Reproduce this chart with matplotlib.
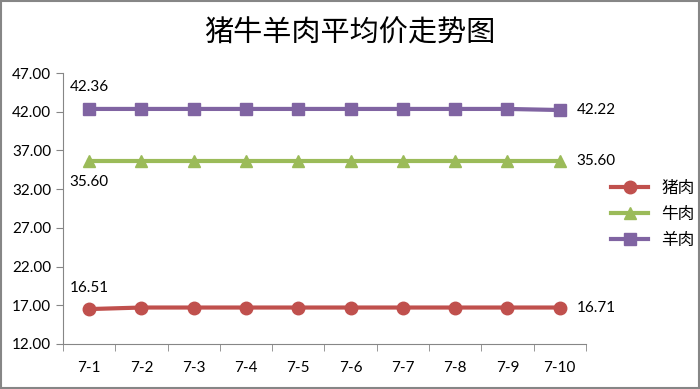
import matplotlib.pyplot as plt
import numpy as np

plt.rcParams['font.family'] = ['Noto Sans CJK SC', 'DejaVu Sans']

dates = ['7-1', '7-2', '7-3', '7-4', '7-5', '7-6', '7-7', '7-8', '7-9', '7-10']
pork = [16.51, 16.71, 16.71, 16.71, 16.71, 16.71, 16.71, 16.71, 16.71, 16.71]
beef = [35.60, 35.60, 35.60, 35.60, 35.60, 35.60, 35.60, 35.60, 35.60, 35.60]
mutton = [42.36, 42.36, 42.36, 42.36, 42.36, 42.36, 42.36, 42.36, 42.36, 42.22]
yticks = [12, 17, 22, 27, 32, 37, 42, 47]

fig = plt.figure(figsize=(7, 3.89), dpi=100)
ax = fig.add_axes([0.09, 0.1157, 0.747, 0.6966])

x = np.arange(len(dates))
ax.plot(x, pork, color='#c0504d', lw=3, marker='o', ms=9, label='猪肉')
ax.plot(x, beef, color='#9bbb59', lw=3, marker='^', ms=9, label='牛肉')
ax.plot(x, mutton, color='#8064a2', lw=3, marker='s', ms=8, label='羊肉')

# labels on first and last point
lbl = dict(fontsize=11, family=['Lato', 'DejaVu Sans'])
ax.annotate(f'{mutton[0]:.2f}', (x[0], mutton[0]), xytext=(0, 11), textcoords='offset points', ha='center', va='bottom', **lbl)
ax.annotate(f'{beef[0]:.2f}', (x[0], beef[0]), xytext=(0, -10), textcoords='offset points', ha='center', va='top', **lbl)
ax.annotate(f'{pork[0]:.2f}', (x[0], pork[0]), xytext=(0, 10), textcoords='offset points', ha='center', va='bottom', **lbl)
ax.annotate(f'{mutton[-1]:.2f}', (x[-1], mutton[-1]), xytext=(12, 0), textcoords='offset points', ha='left', va='center', **lbl)
ax.annotate(f'{beef[-1]:.2f}', (x[-1], beef[-1]), xytext=(12, 0), textcoords='offset points', ha='left', va='center', **lbl)
ax.annotate(f'{pork[-1]:.2f}', (x[-1], pork[-1]), xytext=(12, 0), textcoords='offset points', ha='left', va='center', **lbl)

ax.set_xlim(-0.5, len(dates) - 0.5)
ax.set_ylim(12, 47)
ax.set_yticks(yticks)
ax.set_yticklabels([f'{v:.2f}' for v in yticks], fontsize=11, family=['Lato', 'DejaVu Sans'])
ax.set_xticks(x)
ax.set_xticklabels(dates, fontsize=11, family=['Lato', 'DejaVu Sans'])
ax.set_xticks(np.arange(-0.5, len(dates)), minor=True)
ax.tick_params(axis='x', which='major', length=0, pad=12)
ax.tick_params(axis='x', which='minor', length=5, color='#868686')
ax.tick_params(axis='y', length=5, color='#868686')
for s in ['top', 'right']:
    ax.spines[s].set_visible(False)
for s in ['left', 'bottom']:
    ax.spines[s].set_color('#868686')

ax.legend(loc='center left', bbox_to_anchor=(1.02, 0.478), frameon=False, fontsize=12,
          handlelength=2.2, labelspacing=0.55)

fig.text(0.5, 0.915, '猪牛羊肉平均价走势图', ha='center', va='center', fontsize=21)
fig.patches.append(plt.Rectangle((0.001, 0.002), 0.997, 0.995, transform=fig.transFigure,
                                 fill=False, edgecolor='#868686', lw=1.5))

fig.savefig('out.png', dpi=100)
